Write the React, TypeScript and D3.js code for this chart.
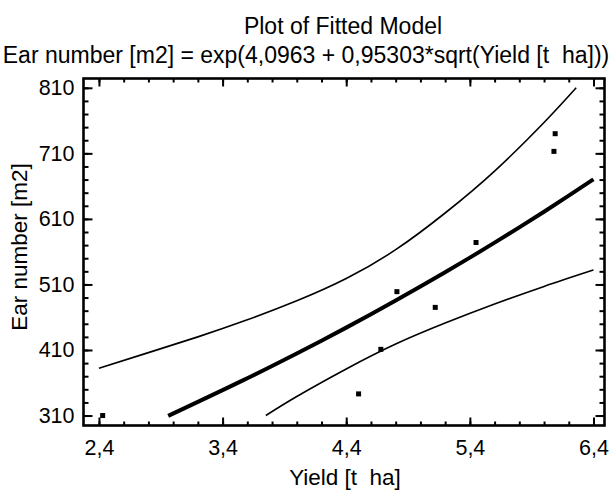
import React, { useEffect, useRef } from "react";
import * as d3 from "d3";

// values
const fitX = [2.96, 3.2, 3.4, 3.6, 3.8, 4.0, 4.2, 4.4, 4.6, 4.8, 5.0, 5.2, 5.4, 5.6, 5.8, 6.0, 6.2, 6.4];
const fitY = [309.5, 330.9, 348.7, 366.9, 385.6, 404.6, 424.1, 444.1, 464.5, 485.4, 506.7, 528.6, 550.9, 573.8, 597.1, 621.0, 645.5, 670.4];

const upperX = [2.4, 2.8, 3.2, 3.6, 4.0, 4.4, 4.8, 5.2, 5.6, 6.0, 6.26];
const upperY = [382, 406, 430, 456, 485, 519, 563, 619, 683, 757, 810];

const lowerX = [3.75, 4.0, 4.4, 4.8, 5.2, 5.6, 6.0, 6.4];
const lowerY = [310, 339, 381, 419, 451, 480, 507, 532];

const pointX = [2.43, 4.5, 4.68, 4.81, 5.12, 5.45, 6.08, 6.09];
const pointY = [310, 343, 411, 499, 475, 574, 713, 740];

const xTicks = [2.4, 3.4, 4.4, 5.4, 6.4];
const yTicks = [310, 410, 510, 610, 710, 810];

const title = "Plot of Fitted Model";
const subtitle = "Ear number [m2] = exp(4,0963 + 0,95303*sqrt(Yield [t  ha]))";
const xTitle = "Yield [t  ha]";
const yTitle = "Ear number [m2]";

const FONT = "'Liberation Sans', Arial, sans-serif";

export default function App() {
  const ref = useRef<SVGSVGElement>(null);

  useEffect(() => {
    const svg = d3.select(ref.current);
    svg.selectAll("*").remove();

    const width = 613,
      height = 491;
    const left = 83.5,
      right = 604.5,
      top = 78.5,
      bottom = 425.5;

    const x = d3.scaleLinear().domain([2.275, 6.489]).range([left, right]);
    const y = d3.scaleLinear().domain([294.8, 824.2]).range([bottom, top]);

    const xMinor = d3.range(2.4, 6.41, 0.2);
    const yMinor = d3.range(310, 811, 20);
    const fmt = (d: number) => d3.format(".1f")(d).replace(".", ",");

    svg.append("rect").attr("width", width).attr("height", height).attr("fill", "#fff");

    const styleAxis = (g: any) => {
      g.select(".domain").remove();
      g.selectAll("line").attr("stroke", "#000").attr("stroke-width", 2);
      g.selectAll("text")
        .attr("fill", "#000")
        .style("font-family", FONT)
        .style("font-size", "21.5px");
    };

    // bottom
    svg.append("g")
      .attr("transform", "translate(0," + bottom + ")")
      .call(d3.axisBottom(x).tickValues(xMinor).tickSize(-4).tickFormat(() => ""))
      .call(styleAxis);
    svg.append("g")
      .attr("transform", "translate(0," + bottom + ")")
      .call(d3.axisBottom(x).tickValues(xTicks).tickSize(-8).tickPadding(14.5).tickFormat(fmt as any))
      .call(styleAxis);
    // top
    svg.append("g")
      .attr("transform", "translate(0," + top + ")")
      .call(d3.axisTop(x).tickValues(xMinor).tickSize(-4).tickFormat(() => ""))
      .call(styleAxis);
    svg.append("g")
      .attr("transform", "translate(0," + top + ")")
      .call(d3.axisTop(x).tickValues(xTicks).tickSize(-8).tickFormat(() => ""))
      .call(styleAxis);
    // left
    svg.append("g")
      .attr("transform", "translate(" + left + ",0)")
      .call(d3.axisLeft(y).tickValues(yMinor).tickSize(-5).tickFormat(() => ""))
      .call(styleAxis);
    svg.append("g")
      .attr("transform", "translate(" + left + ",0)")
      .call(d3.axisLeft(y).tickValues(yTicks).tickSize(-9).tickPadding(9).tickFormat((d: any) => String(d)))
      .call(styleAxis);
    // right
    svg.append("g")
      .attr("transform", "translate(" + right + ",0)")
      .call(d3.axisRight(y).tickValues(yMinor).tickSize(-5).tickFormat(() => ""))
      .call(styleAxis);
    svg.append("g")
      .attr("transform", "translate(" + right + ",0)")
      .call(d3.axisRight(y).tickValues(yTicks).tickSize(-9).tickFormat(() => ""))
      .call(styleAxis);

    svg.append("rect")
      .attr("x", left)
      .attr("y", top)
      .attr("width", right - left)
      .attr("height", bottom - top)
      .attr("fill", "none")
      .attr("stroke", "#000")
      .attr("stroke-width", 2.6);

    const line = d3
      .line<[number, number]>()
      .x(d => x(d[0]))
      .y(d => y(d[1]))
      .curve(d3.curveNatural);

    const zip = (xs: number[], ys: number[]) => xs.map((v, i) => [v, ys[i]] as [number, number]);

    svg.append("path")
      .attr("d", line(zip(upperX, upperY)))
      .attr("fill", "none")
      .attr("stroke", "#000")
      .attr("stroke-width", 1.6);
    svg.append("path")
      .attr("d", line(zip(lowerX, lowerY)))
      .attr("fill", "none")
      .attr("stroke", "#000")
      .attr("stroke-width", 1.6);
    svg.append("path")
      .attr("d", line(zip(fitX, fitY)))
      .attr("fill", "none")
      .attr("stroke", "#000")
      .attr("stroke-width", 4);

    svg.selectAll(".pt")
      .data(zip(pointX, pointY))
      .enter()
      .append("rect")
      .attr("class", "pt")
      .attr("x", d => x(d[0]) - 2.5)
      .attr("y", d => y(d[1]) - 2.5)
      .attr("width", 5)
      .attr("height", 5)
      .attr("fill", "#000");

    const text = (s: string, tx: number, ty: number, size: number) =>
      svg.append("text")
        .attr("x", tx)
        .attr("y", ty)
        .attr("text-anchor", "middle")
        .style("font-family", FONT)
        .style("font-size", size + "px")
        .style("white-space", "pre")
        .attr("fill", "#000")
        .text(s);

    text(title, 343, 34, 23);
    text(subtitle, 306, 63, 23);
    text(xTitle, 345, 485, 22.5);
    text(yTitle, 0, 0, 22.5).attr("transform", "translate(27,247) rotate(-90)");
  }, []);

  return (
    <svg
      ref={ref}
      width={613}
      height={491}
      style={{ position: "absolute", left: 0, top: 0, display: "block" }}
    />
  );
}
